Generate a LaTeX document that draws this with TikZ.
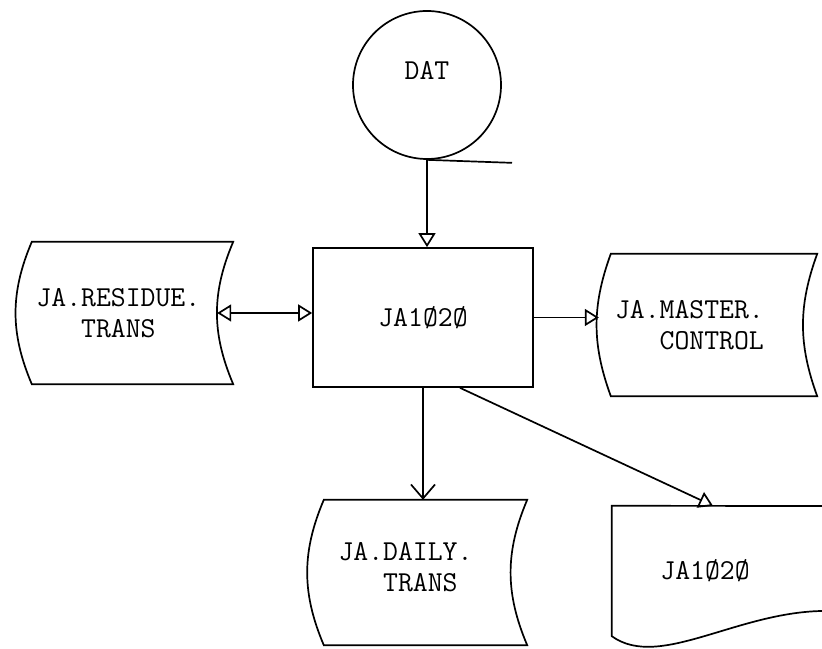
\documentclass[tikz,border=0pt]{standalone}
\usepackage{tikz}
\usetikzlibrary{arrows.meta,positioning,calc}
\tikzset{
  src/.style     = {draw,circle,line width=1.7bp,minimum size=148bp,inner sep=0pt},
  proc/.style    = {draw,line width=1.7bp,minimum width=220bp,minimum height=139bp,
                     inner sep=0pt},
  store/.style   = {inner sep=0pt,align=left,minimum height=142bp},
  docu/.style    = {inner sep=0pt,minimum width=186bp,minimum height=130bp},
  flow/.style    = {-{Triangle[open,length=14bp,width=17bp]},line width=1.7bp},
  biflow/.style  = {{Triangle[open,length=14bp,width=17bp]}-{Triangle[open,length=14bp,width=17bp]},
                     line width=1.7bp},
  barb/.style    = {-{Straight Barb[length=14bp,width=24bp]},line width=1.7bp},
}
% outline of a stored-data box round a node
\newcommand{\storeoutline}[2][23]{%
  \draw[line width=1.7bp] (#2.north west) to[bend right=#1] (#2.south west)
    -- (#2.south east) to[bend left=#1] (#2.north east) -- cycle;}

\begin{document}
\begin{tikzpicture}[x=1bp,y=1bp,font=\ttfamily\fontsize{29}{31}\selectfont]
  \useasboundingbox (0,0) rectangle (822,649);
  \clip (0,0) rectangle (822,649);

  % Source and program
  \node[src,label={[yshift=15bp]center:DAT}] (dat) at (427,564) {};
  \node[proc] (prog) at (423,331.5) {JA1Ø2Ø};

  % Files
  \node[store,minimum width=201bp,text width=192bp] (res) at (132.5,336)
      {JA.RESIDUE.\\\hphantom{JA.}TRANS};
  \node[store,minimum width=206bp,text width=198bp] (mst) at (714,324)
      {JA.MASTER.\\\hphantom{JA.}CONTROL};
  \node[store,minimum width=203bp,text width=174bp,minimum height=145bp,
        text depth=42bp] (daily) at (425.5,76.5)
      {JA.DAILY.\\\hphantom{JA.}TRANS};
  \storeoutline{res}
  \storeoutline[20]{mst}
  \storeoutline{daily}

  % Report
  \node[docu] (doc) at (705,78) {JA1Ø2Ø};
  \draw[line width=1.7bp] (830,143) -- (doc.north west) -- (doc.south west)
      .. controls (660,-22) and (740,40) .. (830,38);

  % Flows
  \coordinate (resout) at ([xshift=-16bp]res.east);
  \coordinate (mstin) at ([xshift=-12bp]mst.west);
  \draw[line width=1.7bp] (dat.south) -- ++(85,-3);
  \draw[flow] (dat.south) -- (dat.south |- prog.north);
  \draw[biflow] (resout) -- (resout -| prog.west);
  \draw[flow] (prog.east) -- (prog.east -| mstin);
  \draw[barb] (prog.south) -- (prog.south |- daily.north);
  \draw[flow] ([xshift=37bp]prog.south) -- ([xshift=8bp]doc.north);
\end{tikzpicture}
\end{document}
